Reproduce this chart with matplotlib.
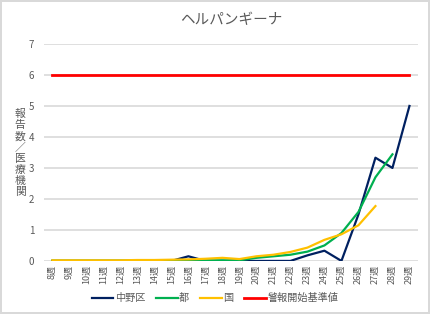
import matplotlib.pyplot as plt
import numpy as np

plt.rcParams['font.family'] = ['Noto Sans CJK JP', 'DejaVu Sans']

weeks = [f'{w}週' for w in range(8, 30)]
nakano = [0, 0, 0, 0, 0, 0, 0, 0, 0.15, 0, 0, 0, 0, 0, 0, 0.18, 0.33, 0, 1.5, 3.33, 3.0, 5.0]
tokyo = [0.01, 0.01, 0.01, 0.01, 0.01, 0.01, 0.01, 0.02, 0.03, 0.02, 0.02, 0.02, 0.1, 0.15, 0.2, 0.3, 0.5, 0.9, 1.58, 2.7, 3.44]
japan = [0.02, 0.02, 0.02, 0.02, 0.02, 0.03, 0.03, 0.04, 0.05, 0.07, 0.1, 0.06, 0.15, 0.2, 0.29, 0.43, 0.68, 0.86, 1.15, 1.77]
alert = 6
ylabel = '報告数／医療機関'

x = np.arange(len(weeks))

fig = plt.figure(figsize=(4.3, 3.14), dpi=100)
fig.patch.set_edgecolor('#D9D9D9')
fig.patch.set_linewidth(1.5)
ax = fig.add_axes([0.102, 0.169, 0.870, 0.691])

ax.plot(x, nakano, color='#002060', lw=1.6, label='中野区', zorder=3)
ax.plot(x[:len(tokyo)], tokyo, color='#00B050', lw=1.6, label='都', zorder=3)
ax.plot(x[:len(japan)], japan, color='#FFC000', lw=1.6, label='国', zorder=3)
ax.plot(x, [alert] * len(x), color='#FF0000', lw=2, label='警報開始基準値', zorder=3)

ax.set_xlim(-0.5, len(weeks) - 0.5)
ax.set_ylim(0, 7)
ax.set_yticks(range(0, 8))
ax.set_xticks(x)
ax.set_xticklabels(weeks, rotation=90, fontsize=6.5, color='#595959')
ax.tick_params(axis='y', labelsize=7, colors='#595959', length=0, pad=7)
ax.tick_params(axis='x', length=0, pad=3)
ax.grid(axis='y', color='#D9D9D9', lw=1.2)
ax.set_axisbelow(True)
for s in ax.spines.values():
    s.set_visible(False)

ax.set_title('ヘルパンギーナ', fontsize=10.5, color='#595959', pad=14)

# vertical (stacked) y label, one character per line
step = 11.2 / 314
top = 1 - 114 / 314
for i, ch in enumerate(ylabel):
    fig.text(0.047, top - i * step, ch, fontsize=7.8, color='#595959',
             ha='center', va='center')

ax.legend(loc='center', bbox_to_anchor=(0.5, 0.05), bbox_transform=fig.transFigure,
          ncol=4, frameon=False, fontsize=7.3, handlelength=2.1, columnspacing=1.1,
          handletextpad=0.15, labelcolor='#595959')

fig.savefig('out.png', dpi=100)
